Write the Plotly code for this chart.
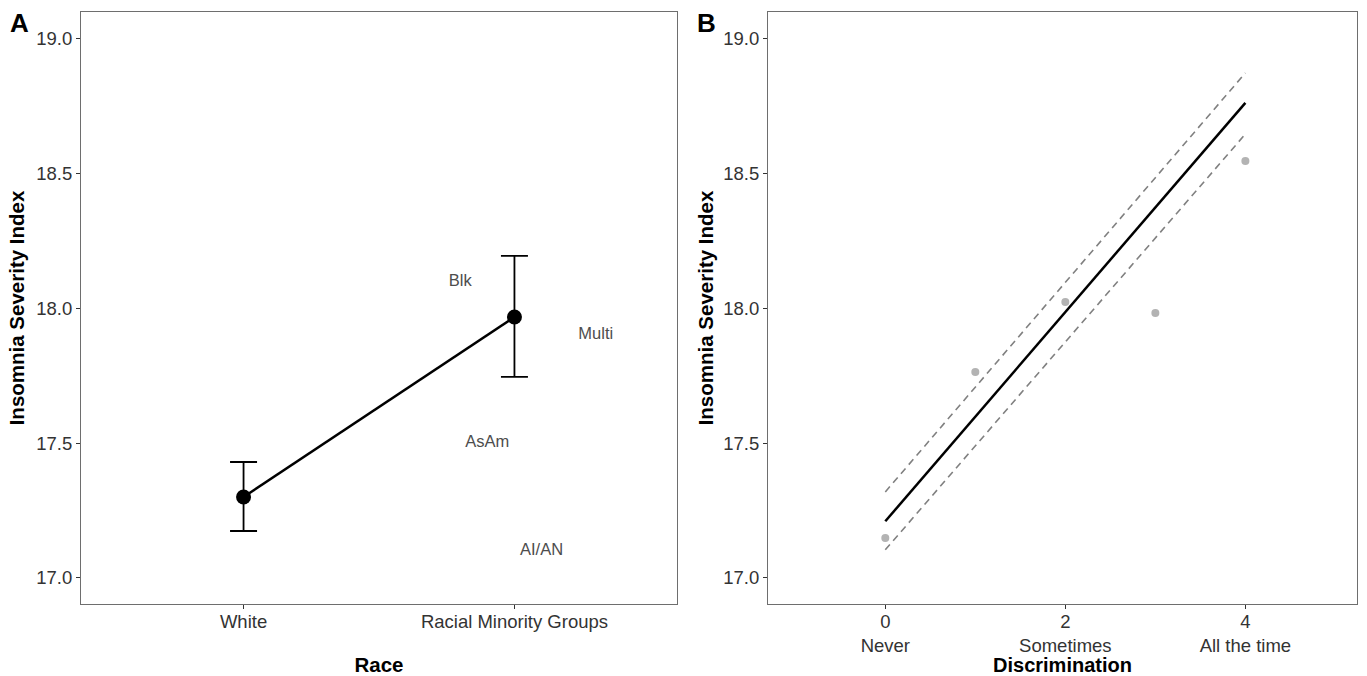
import plotly.graph_objects as go

# Panel A data
race_groups = ["White", "Racial Minority Groups"]
race_means = [17.30, 17.968]
race_upper = [17.43, 18.195]
race_lower = [17.174, 17.746]
subgroup_labels = ["Blk", "Multi", "AsAm", "AI/AN"]
subgroup_x = [1.80, 2.30, 1.90, 2.10]
subgroup_y = [18.10, 17.90, 17.50, 17.10]

# Panel B data
disc_levels = [0, 1, 2, 3, 4]
disc_means = [17.148, 17.764, 18.024, 17.983, 18.547]
fit_x = [0, 4]
fit_y = [17.21, 18.763]
fit_upper = [17.319, 18.874]
fit_lower = [17.104, 18.647]
disc_tickvals = [0, 2, 4]
disc_ticktext = ["0<br>Never", "2<br>Sometimes", "4<br>All the time"]

FONT = "Liberation Sans, Arial, sans-serif"
race_pos = [i + 1 for i in range(len(race_groups))]

fig = go.Figure()

fig.add_trace(go.Scatter(
    x=race_pos, y=race_means, mode="lines+markers",
    line=dict(color="black", width=2.5),
    marker=dict(color="black", size=15),
    error_y=dict(type="data", symmetric=False,
                 array=[u - m for u, m in zip(race_upper, race_means)],
                 arrayminus=[m - l for m, l in zip(race_means, race_lower)],
                 color="black", thickness=1.8, width=13.5),
    xaxis="x", yaxis="y", showlegend=False))

fig.add_trace(go.Scatter(
    x=subgroup_x, y=subgroup_y, mode="text", text=subgroup_labels,
    textfont=dict(family=FONT, size=16.5, color="#4d4d4d"),
    xaxis="x", yaxis="y", showlegend=False))

fig.add_trace(go.Scatter(
    x=disc_levels, y=disc_means, mode="markers",
    marker=dict(color="#b3b3b3", size=8),
    xaxis="x2", yaxis="y2", showlegend=False))
fig.add_trace(go.Scatter(
    x=fit_x, y=fit_upper, mode="lines",
    line=dict(color="#808080", width=1.6, dash="7px,5px"),
    xaxis="x2", yaxis="y2", showlegend=False))
fig.add_trace(go.Scatter(
    x=fit_x, y=fit_lower, mode="lines",
    line=dict(color="#808080", width=1.6, dash="7px,5px"),
    xaxis="x2", yaxis="y2", showlegend=False))
fig.add_trace(go.Scatter(
    x=fit_x, y=fit_y, mode="lines",
    line=dict(color="black", width=2.5),
    xaxis="x2", yaxis="y2", showlegend=False))

W, H = 1367, 676
axis_common = dict(showgrid=False, zeroline=False, showline=True, linecolor="#6e6e6e",
                   linewidth=1.2, mirror=True, ticks="outside", ticklen=4,
                   tickcolor="#333333", tickfont=dict(family=FONT, size=18.5, color="#333333"))
yticks = [17.0, 17.5, 18.0, 18.5, 19.0]
ytext = ["17.0", "17.5", "18.0", "18.5", "19.0"]
title_font = dict(family=FONT, size=20.5, color="black")

fig.update_layout(
    width=W, height=H, margin=dict(l=0, r=0, t=0, b=0),
    paper_bgcolor="white", plot_bgcolor="white",
    font=dict(family=FONT),
    xaxis=dict(domain=[81 / W, 677 / W], range=[0.4, 2.6], tickvals=race_pos,
               ticktext=race_groups, anchor="y", ticklabelstandoff=-3,
               title=dict(text="<b>Race</b>", font=title_font, standoff=26),
               **axis_common),
    yaxis=dict(domain=[1 - 604 / H, 1 - 12 / H], range=[16.903, 19.1], tickvals=yticks,
               ticktext=ytext, anchor="x",
               title=dict(text="<b>Insomnia Severity Index</b>", font=title_font, standoff=6),
               **axis_common),
    xaxis2=dict(domain=[768 / W, 1357 / W], range=[-1.303, 5.24], tickvals=disc_tickvals,
                ticktext=disc_ticktext, anchor="y2", ticklabelstandoff=-3,
                title=dict(text="<b>Discrimination</b>",
                           font=dict(family=FONT, size=20, color="black"), standoff=6),
                **axis_common),
    yaxis2=dict(domain=[1 - 604 / H, 1 - 12 / H], range=[16.903, 19.1], tickvals=yticks,
                ticktext=ytext, anchor="x2",
                title=dict(text="<b>Insomnia Severity Index</b>", font=title_font, standoff=4),
                **axis_common),
    annotations=[
        dict(text="<b>A</b>", x=8 / W, y=1 - 6 / H, xref="paper", yref="paper",
             xanchor="left", yanchor="top", showarrow=False,
             font=dict(family=FONT, size=26, color="black")),
        dict(text="<b>B</b>", x=695 / W, y=1 - 6 / H, xref="paper", yref="paper",
             xanchor="left", yanchor="top", showarrow=False,
             font=dict(family=FONT, size=26, color="black")),
    ],
)

fig.write_html("out.html", config={"displayModeBar": False},
               post_script="document.body.style.margin='0';")
